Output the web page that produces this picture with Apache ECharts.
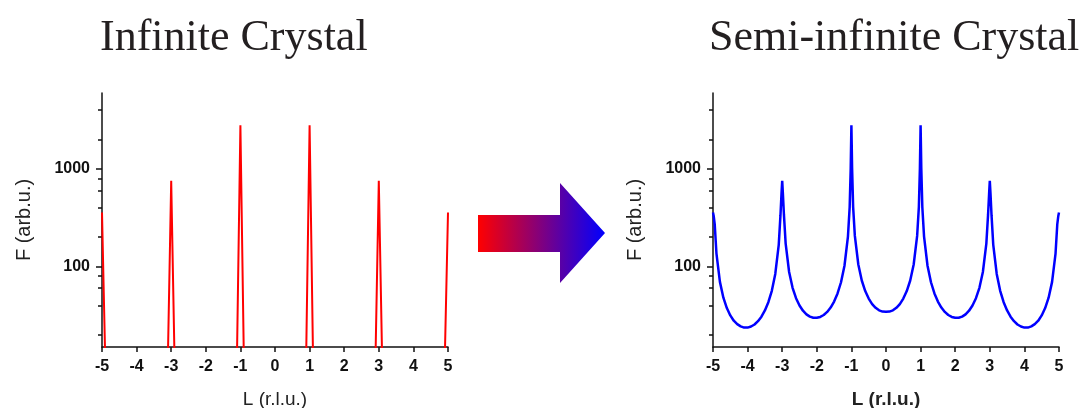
<!DOCTYPE html>
<html>
<head>
<meta charset="utf-8">
<script src="https://cdn.jsdelivr.net/npm/echarts@6/dist/echarts.min.js"></script>
<style>html,body{margin:0;background:#fff}#chart{width:1083px;height:408px}</style>
</head>
<body>
<div id="chart"></div>
<script>
// ---- data ----
// infinite crystal: narrow Bragg spikes at odd L
const infL = [-5, -4.885, -3.115, -3, -2.885, -1.115, -1, -0.885, 0.885, 1, 1.115, 2.885, 3, 3.115, 4.885, 5];
const infF = [358, 5, 5, 755, 5, 5, 2810, 5, 5, 2810, 5, 5, 755, 5, 5, 358];

// semi-infinite crystal: truncation rods between the peaks
const semiL = [
  -5, -4.98, -4.95, -4.9, -4.8, -4.7, -4.6, -4.5, -4.4, -4.3, -4.2, -4.1,
  -4, -3.9, -3.8, -3.7, -3.6, -3.5, -3.4, -3.3, -3.2, -3.1, -3.05, -3.02,
  -3, -2.98, -2.95, -2.9, -2.8, -2.7, -2.6, -2.5, -2.4, -2.3, -2.2, -2.1,
  -2, -1.9, -1.8, -1.7, -1.6, -1.5, -1.4, -1.3, -1.2, -1.1, -1.05, -1.02,
  -1, -0.98, -0.95, -0.9, -0.8, -0.7, -0.6, -0.5, -0.4, -0.3, -0.2, -0.1,
  0, 0.1, 0.2, 0.3, 0.4, 0.5, 0.6, 0.7, 0.8, 0.9, 0.95, 0.98,
  1, 1.02, 1.05, 1.1, 1.2, 1.3, 1.4, 1.5, 1.6, 1.7, 1.8, 1.9,
  2, 2.1, 2.2, 2.3, 2.4, 2.5, 2.6, 2.7, 2.8, 2.9, 2.95, 2.98,
  3, 3.02, 3.05, 3.1, 3.2, 3.3, 3.4, 3.5, 3.6, 3.7, 3.8, 3.9,
  4, 4.1, 4.2, 4.3, 4.4, 4.5, 4.6, 4.7, 4.8, 4.9, 4.95, 4.98, 5
];
const semiF = [
  358, 330, 270, 136, 69.7, 48.0, 37.6, 31.6, 27.9, 25.7, 24.4, 23.7,
  23.7, 24.3, 25.5, 27.6, 30.7, 35.5, 43.2, 56.5, 84.0, 167, 336, 560,
  755, 560, 340, 172, 88.0, 60.6, 47.4, 39.9, 35.3, 32.4, 30.7, 29.9,
  29.9, 30.5, 31.9, 34.3, 38.0, 43.8, 53.0, 69.1, 102, 203, 407, 1018,
  2810, 1020, 409, 206, 105, 72.0, 56.1, 47.0, 41.3, 37.8, 35.6, 34.6,
  34.4, 34.6, 35.6, 37.8, 41.3, 47.0, 56.1, 72.0, 105, 206, 409, 1020,
  2810, 1018, 407, 203, 102, 69.1, 53.0, 43.8, 38.0, 34.3, 31.9, 30.5,
  29.9, 29.9, 30.7, 32.4, 35.3, 39.9, 47.4, 60.6, 88.0, 172, 340, 560,
  755, 560, 336, 167, 84.0, 56.5, 43.2, 35.5, 30.7, 27.6, 25.5, 24.3,
  23.7, 23.7, 24.4, 25.7, 27.9, 31.6, 37.6, 48.0, 69.7, 136, 270, 330, 358
];

const majorTicksY = [100, 1000];
const minorTicksY = [20, 40, 60, 80, 200, 400, 600, 800, 2000, 4000];
const titles = ['Infinite Crystal', 'Semi-infinite Crystal'];

const ink = '#111';
const sans = 'Liberation Sans, Arial, sans-serif';

function xAxis(idx, bold) {
  return {
    type: 'value', gridIndex: idx, min: -5, max: 5, interval: 1,
    name: 'L (r.l.u.)', nameLocation: 'middle', nameGap: 43,
    nameTextStyle: { fontFamily: sans, fontSize: 19, color: '#222', fontWeight: bold ? 'bold' : 'normal' },
    axisLine: { show: true, onZero: false, lineStyle: { color: ink, width: 1.5 } },
    axisTick: { show: true, length: 5, lineStyle: { color: ink, width: 1.5 } },
    axisLabel: { fontFamily: sans, fontSize: 16, fontWeight: 'bold', color: ink, margin: 12 },
    splitLine: { show: false }
  };
}

function yAxis(idx) {
  return {
    type: 'log', logBase: 10, gridIndex: idx, min: 15, max: 6000, position: 'left',
    name: 'F (arb.u.)', nameLocation: 'middle', nameGap: 68, nameRotate: 90,
    nameTextStyle: { fontFamily: sans, fontSize: 20, color: '#222' },
    axisLine: { show: true, onZero: false, lineStyle: { color: ink, width: 1.5 } },
    axisTick: { show: true, length: 6, customValues: majorTicksY, lineStyle: { color: ink, width: 1.5 } },
    axisLabel: {
      fontFamily: sans, fontSize: 16, fontWeight: 'bold', color: ink, margin: 12,
      customValues: majorTicksY, formatter: v => String(Math.round(v))
    },
    splitLine: { show: false }
  };
}

// extra axis only carrying the minor ticks
function yMinor(idx) {
  return {
    type: 'log', logBase: 10, gridIndex: idx, min: 15, max: 6000, position: 'left',
    axisLine: { show: false, onZero: false },
    axisTick: { show: true, length: 4, customValues: minorTicksY, lineStyle: { color: ink, width: 1.5 } },
    axisLabel: { show: false },
    splitLine: { show: false }
  };
}

const chart = echarts.init(document.getElementById('chart'));
chart.setOption({
  animation: false,
  backgroundColor: '#fff',
  title: [
    { text: titles[0], left: 95, top: 11, textStyle: { fontFamily: 'Liberation Serif, serif', fontSize: 44, fontWeight: 'normal', color: '#231f20' } },
    { text: titles[1], left: 704, top: 11, textStyle: { fontFamily: 'Liberation Serif, serif', fontSize: 44, fontWeight: 'normal', color: '#231f20' } }
  ],
  grid: [
    { left: 102, top: 93, width: 346, height: 254, outerBoundsMode: 'none', containLabel: false },
    { left: 713, top: 93, width: 346, height: 254, outerBoundsMode: 'none', containLabel: false }
  ],
  xAxis: [xAxis(0, false), xAxis(1, true)],
  yAxis: [yAxis(0), yAxis(1), yMinor(0), yMinor(1)],
  series: [
    {
      type: 'line', xAxisIndex: 0, yAxisIndex: 0, silent: true,
      data: infL.map((l, i) => [l, infF[i]]),
      showSymbol: false, clip: true,
      lineStyle: { color: '#ff0000', width: 2 }
    },
    {
      type: 'line', xAxisIndex: 1, yAxisIndex: 1, silent: true,
      data: semiL.map((l, i) => [l, semiF[i]]),
      showSymbol: false, clip: true,
      lineStyle: { color: '#0000ff', width: 2.5 }
    }
  ],
  graphic: [{
    type: 'polygon', silent: true,
    shape: { points: [[478, 215], [560, 215], [560, 183], [605, 233], [560, 283], [560, 252], [478, 252]] },
    style: {
      fill: new echarts.graphic.LinearGradient(0, 0, 1, 0, [
        { offset: 0, color: '#ff0000' },
        { offset: 1, color: '#0000ff' }
      ])
    }
  }]
});
</script>
</body>
</html>
